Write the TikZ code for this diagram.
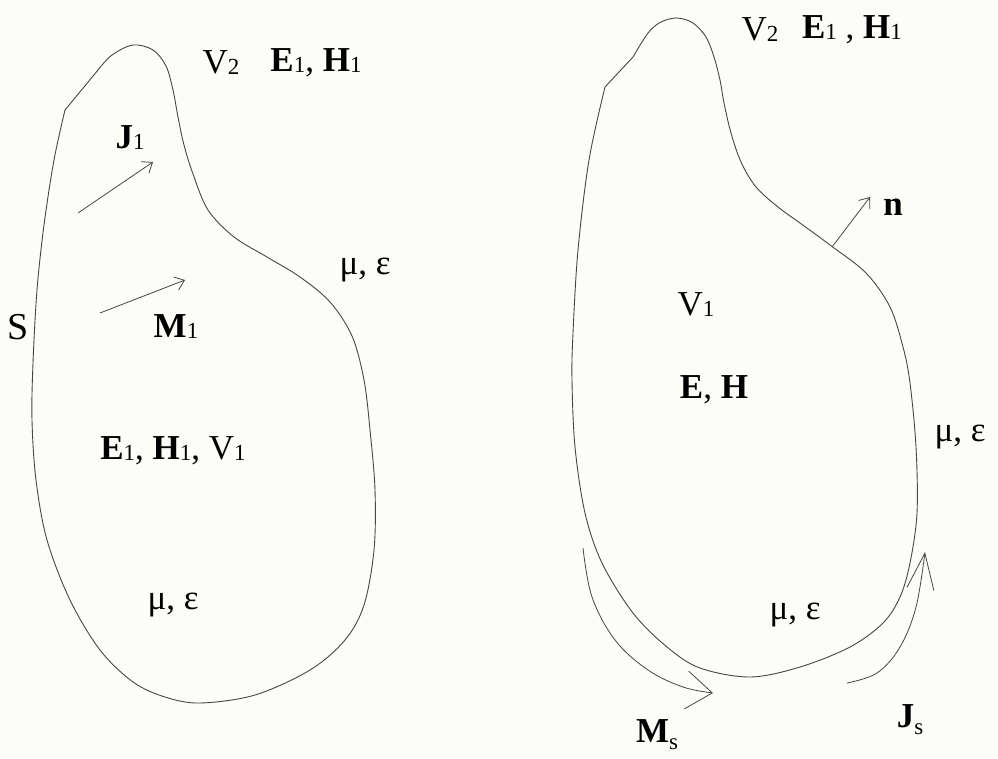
\documentclass[tikz,border=0pt]{standalone}
\usepackage{fontspec}
\setmainfont{Liberation Serif}
\usetikzlibrary{arrows.meta}
\definecolor{bgcol}{RGB}{252,252,248}
\definecolor{ink}{RGB}{70,70,70}
\newcommand{\lo}[1]{{\fontsize{23}{23}\selectfont\raisebox{-1pt}{#1}}}
\newcommand{\los}[1]{{\fontsize{23}{23}\selectfont\raisebox{-7pt}{#1}}}
\begin{document}
\begin{tikzpicture}[x=1pt,y=-1pt,
  outline/.style={draw=ink, line width=0.9pt},
  lbl/.style={font=\fontsize{35}{40}\selectfont, inner sep=0pt, text=black},
  smallarrow/.style={draw=ink, line width=0.8pt, -{Straight Barb[length=9pt,width=14pt]}},
  bigarrow/.style={draw=ink, line width=0.8pt},
 ]
\fill[bgcol] (0,0) rectangle (998,758);
\useasboundingbox (0,0) rectangle (998,758);

% ---------- left body ----------
\draw[outline] (65,110) -- (98,70)
  plot[smooth, tension=0.55] coordinates {(98,70) (112,55) (133,45) (153,50) (166,66) (173,90) (178,117) (184,145) (193,174) (208,210) (234,237) (267,257) (300,277) (330,302) (352,336) (364,380) (370,430) (375,490) (374,550) (364,605) (345,640) (310,670) (255,695) (200,703) (165,697) (133,682) (100,650) (70,600) (47,540) (36,480) (32,420) (33,363) (37,290) (44,225) (54,160) (65,110)} -- cycle;

% labels left
\node[lbl] (v2l) at (221,63) {V\lo{2}};
\node[lbl] (ehl) at (316,63) {\textbf{E}\lo{1}, \textbf{H}\lo{1}};
\node[lbl] (j1) at (130,138) {\textbf{J}\lo{1}};
\node[lbl] (mel) at (365,270) {μ, ε};
\node[lbl, font=\fontsize{38}{40}\selectfont] (s) at (18,327) {S};
\node[lbl] (m1) at (176,327) {\textbf{M}\lo{1}};
\node[lbl] (ehv) at (173,451) {\textbf{E}\lo{1}, \textbf{H}\lo{1}, V\lo{1}};
\node[lbl] (mel2) at (173,605) {μ, ε};

% arrows left
\coordinate (ja) at (78,213);
\coordinate (jb) at (153,162);
\coordinate (ma) at (100,313);
\coordinate (mb) at (185,280);
\draw[smallarrow] (ja) -- (jb);
\draw[smallarrow] (ma) -- (mb);

% ---------- right body ----------
\draw[outline] (605,87) -- (633,57)
  plot[smooth, tension=0.55] coordinates {(633,57) (648,33) (661,22) (677,18) (693,23) (706,37) (714,57) (720,80) (724,103) (731,133) (741,162) (756,187) (778,207) (800,223) (830,245) (866,273) (890,307) (903,347) (910,383) (916,447) (917,513) (910,563) (900,597) (883,623) (850,647) (800,667) (750,677) (700,668) (667,647) (633,613) (602,563) (585,513) (575,447) (572,380) (573,333) (578,250) (589,160) (605,87)} -- cycle;

% labels right
\node[lbl] (v2r) at (760,30) {V\lo{2}};
\node[lbl] (ehr) at (852,30) {\textbf{E}\lo{1} , \textbf{H}\lo{1}};
\node[lbl] (n) at (893,207) {\textbf{n}};
\node[lbl] (v1) at (696,305) {V\lo{1}};
\node[lbl] (eh) at (714,390) {\textbf{E}, \textbf{H}};
\node[lbl] (mer) at (960,437) {μ, ε};
\node[lbl] (mer2) at (795,615) {μ, ε};
\node[lbl] (ms) at (657,735) {\textbf{M}\los{s}};
\node[lbl] (js) at (910,720) {\textbf{J}\los{s}};

% normal arrow
\coordinate (na) at (832,247);
\coordinate (nb) at (870,197);
\draw[smallarrow] (na) -- (nb);

% surface current arrows
\coordinate (msa) at (583,548);
\coordinate (msb) at (713,693);
\draw[bigarrow, -{Straight Barb[length=26pt,width=38pt]}]
  plot[smooth, tension=0.6] coordinates {(msa) (592,597) (615,640) (648,670) (683,687) (msb)};
\coordinate (jsa) at (847,683);
\coordinate (jsb) at (925,552);
\draw[bigarrow, -{Straight Barb[length=36pt,width=27pt]}]
  plot[smooth, tension=0.6] coordinates {(jsa) (877,673) (900,647) (916,607) (jsb)};
\end{tikzpicture}
\end{document}
